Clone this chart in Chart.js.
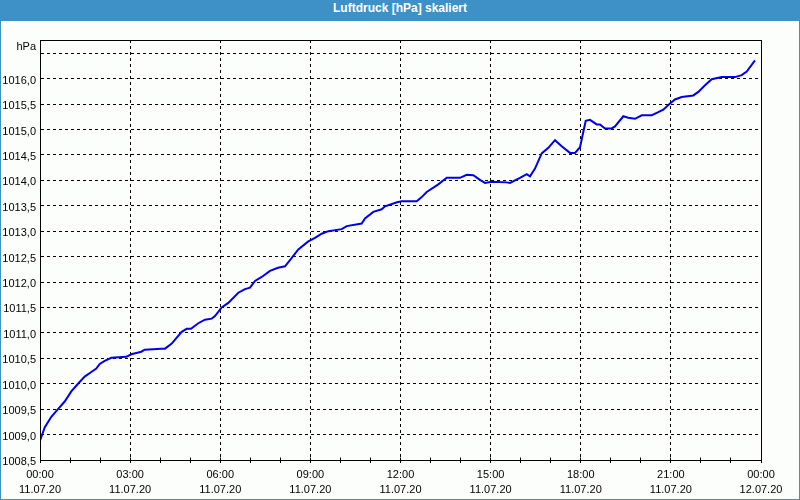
<!DOCTYPE html>
<html>
<head>
<meta charset="utf-8">
<script src="https://cdn.jsdelivr.net/npm/chart.js@4/dist/chart.umd.min.js"></script>
<style>
  html, body { margin: 0; padding: 0; background: #fcfefc; }
  #frame { position: relative; width: 800px; height: 500px; box-sizing: border-box; border: 1px solid #3d91c6; background: #fcfefc; overflow: hidden; }
  #title { height: 20px; line-height: 20px; background: #3d91c6; color: #ffffff; font: bold 12px "Liberation Sans", Arial, sans-serif; text-align: center; }
  canvas { display: block; }
</style>
</head>
<body>
<div id="frame">
  <div id="title">Luftdruck [hPa] skaliert</div>
  <canvas id="c" width="798" height="478"></canvas>
</div>
<script>
// ---- data (hours since 11.07.20 00:00, pressure in hPa) ----
const hours = [
  0.000, 0.156, 0.376, 0.599, 0.822, 1.042, 1.265, 1.488, 1.708, 1.874,
  1.987, 2.154, 2.373, 2.873, 3.039, 3.372, 3.485, 4.038, 4.161, 4.384,
  4.717, 4.883, 5.026, 5.269, 5.492, 5.715, 5.825, 6.048, 6.268, 6.601,
  6.824, 6.990, 7.157, 7.380, 7.656, 7.922, 8.155, 8.322, 8.598, 8.931,
  9.154, 9.377, 9.597, 10.043, 10.209, 10.708, 10.818, 11.095, 11.374, 11.484,
  11.884, 12.040, 12.539, 12.705, 12.872, 13.258, 13.538, 13.981, 14.204, 14.423,
  14.646, 14.813, 15.036, 15.535, 15.645, 15.978, 16.201, 16.311, 16.477, 16.700,
  16.920, 17.143, 17.366, 17.642, 17.809, 17.975, 18.085, 18.165, 18.308, 18.531,
  18.641, 18.807, 19.030, 19.140, 19.417, 19.583, 19.806, 20.029, 20.362, 20.582,
  20.748, 20.971, 21.137, 21.360, 21.746, 21.913, 22.136, 22.359, 22.692, 23.135,
  23.358, 23.524, 23.800
];
const pressure = [
  1008.88, 1009.14, 1009.35, 1009.50, 1009.65, 1009.85, 1010.00, 1010.14, 1010.23, 1010.30,
  1010.39, 1010.45, 1010.51, 1010.53, 1010.58, 1010.63, 1010.67, 1010.69, 1010.69, 1010.79,
  1011.02, 1011.08, 1011.08, 1011.19, 1011.26, 1011.28, 1011.33, 1011.50, 1011.59, 1011.79,
  1011.86, 1011.89, 1012.02, 1012.10, 1012.22, 1012.28, 1012.31, 1012.43, 1012.64, 1012.80,
  1012.87, 1012.95, 1013.00, 1013.04, 1013.10, 1013.15, 1013.25, 1013.38, 1013.43, 1013.49,
  1013.57, 1013.59, 1013.59, 1013.67, 1013.77, 1013.92, 1014.05, 1014.05, 1014.11, 1014.10,
  1014.01, 1013.95, 1013.97, 1013.96, 1013.95, 1014.05, 1014.12, 1014.08, 1014.23, 1014.53,
  1014.64, 1014.79, 1014.67, 1014.54, 1014.54, 1014.65, 1014.95, 1015.17, 1015.19, 1015.10,
  1015.10, 1015.02, 1015.02, 1015.06, 1015.26, 1015.23, 1015.21, 1015.28, 1015.28, 1015.34,
  1015.39, 1015.51, 1015.59, 1015.64, 1015.67, 1015.74, 1015.87, 1015.99, 1016.03, 1016.03,
  1016.07, 1016.14, 1016.36
];
const xTickTimes = ['00:00','03:00','06:00','09:00','12:00','15:00','18:00','21:00','00:00'];
const xTickDates = ['11.07.20','11.07.20','11.07.20','11.07.20','11.07.20','11.07.20','11.07.20','11.07.20','12.07.20'];
const yUnit = 'hPa';
const yMin = 1008.5, yMax = 1016.76, yStep = 0.5, yHiddenLabel = 1016.5;

const FONT = { family: '"Liberation Sans", Arial, sans-serif', size: 11 };

const framePlugin = {
  id: 'frame',
  afterDraw(chart) {
    const { ctx, chartArea: a } = chart;
    const xs = chart.scales.x, ys = chart.scales.y;
    ctx.save();
    ctx.setLineDash([]);
    ctx.strokeStyle = '#000';
    ctx.lineWidth = 1;
    ctx.strokeRect(a.left + 0.5, a.top + 0.5, a.right - a.left, a.bottom - a.top);
    // hourly marks rising from the bottom axis
    ctx.beginPath();
    xs.ticks.forEach(t => {
      const px = Math.round(xs.getPixelForValue(t.value) - 0.5) + 0.5;
      ctx.moveTo(px, a.bottom + 0.5);
      ctx.lineTo(px, a.bottom - 2.5);
    });
    ctx.stroke();
    // unit label
    ctx.fillStyle = '#000';
    ctx.font = '11px "Liberation Sans", Arial, sans-serif';
    ctx.textAlign = 'right';
    ctx.textBaseline = 'middle';
    ctx.fillText(yUnit, ys.right - 4, a.top + 7);
    ctx.restore();
  }
};

new Chart(document.getElementById('c'), {
  type: 'line',
  data: {
    datasets: [{
      data: hours.map((h, i) => ({ x: h, y: pressure[i] })),
      borderColor: '#0000ee',
      borderWidth: 2,
      pointRadius: 0,
      tension: 0,
      fill: false
    }]
  },
  options: {
    responsive: false,
    animation: false,
    events: [],
    layout: { padding: { left: 0, top: 19, right: 38, bottom: 0 } },
    plugins: { legend: { display: false }, tooltip: { enabled: false }, title: { display: false } },
    scales: {
      x: {
        type: 'linear',
        min: 0, max: 24,
        afterFit(s) { s.height = 39; },
        ticks: {
          stepSize: 1,
          autoSkip: false,
          maxRotation: 0,
          padding: 4,
          color: '#000',
          font: { ...FONT, lineHeight: '15px' },
          callback(v) {
            if (Math.abs(v % 3) > 1e-9) return '';
            const i = Math.round(v / 3);
            return [xTickTimes[i], xTickDates[i]];
          }
        },
        grid: {
          color: c => (c.tick && Math.abs(c.tick.value % 3) < 1e-9) ? '#000' : 'rgba(0,0,0,0)',
          tickColor: '#000',
          tickLength: 3,
          drawTicks: true,
          lineWidth: 1
        },
        border: { display: true, color: '#000', dash: [3, 3] }
      },
      y: {
        min: yMin, max: yMax,
        afterFit(s) { s.width = 39; },
        ticks: {
          stepSize: yStep,
          includeBounds: false,
          padding: 4,
          labelOffset: 2,
          color: '#000',
          font: FONT,
          callback(v) {
            if (Math.abs(v - yHiddenLabel) < 1e-6) return '';
            return v.toFixed(1).replace('.', ',');
          }
        },
        grid: { color: '#000', drawTicks: false, lineWidth: 1 },
        border: { display: true, color: '#000', dash: [3, 3] }
      }
    }
  },
  plugins: [framePlugin]
});
</script>
</body>
</html>
